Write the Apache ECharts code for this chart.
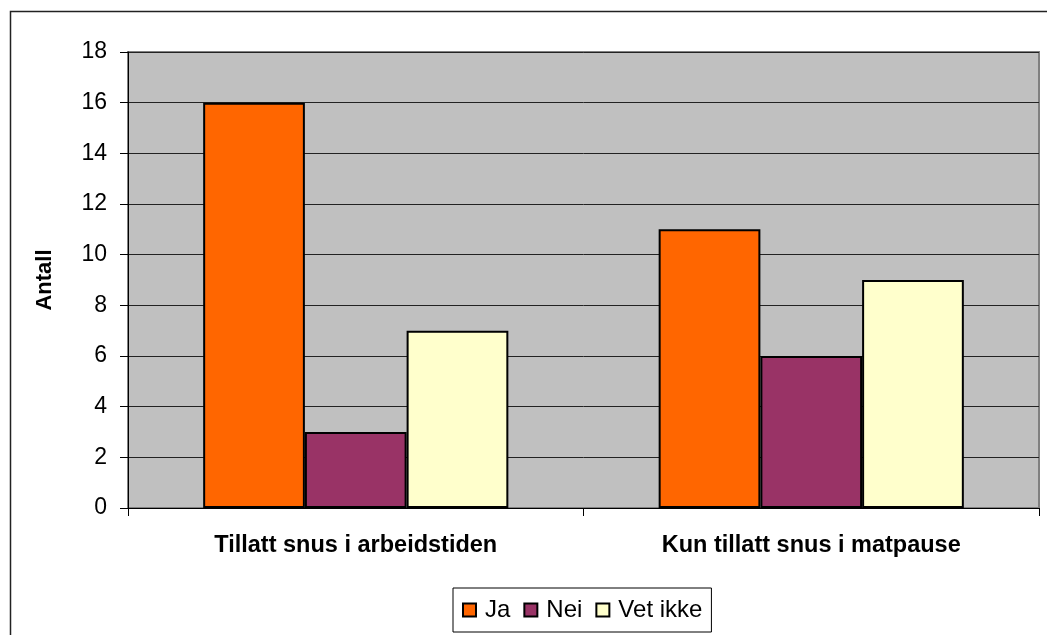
<!DOCTYPE html>
<html>
<head>
<meta charset="utf-8">
<script src="https://cdn.jsdelivr.net/npm/echarts@6/dist/echarts.min.js"></script>
<style>
  html, body { margin: 0; padding: 0; background: #fff; }
  #chart { width: 1047px; height: 635px; }
</style>
</head>
<body>
<div id="chart"></div>
<script>
// Survey answers per rule option
const categories = ['Tillatt snus i arbeidstiden', 'Kun tillatt snus i matpause'];
const seriesNames = ['Ja', 'Nei', 'Vet ikke'];
const jaValues = [16, 11];
const neiValues = [3, 6];
const vetIkkeValues = [7, 9];
const yTicks = [0, 2, 4, 6, 8, 10, 12, 14, 16, 18];

const colors = ['#FF6600', '#993366', '#FFFFCC'];
const FONT = '"Liberation Sans", Arial, sans-serif';

const chart = echarts.init(document.getElementById('chart'), null, { renderer: 'canvas' });

const valueSets = [jaValues, neiValues, vetIkkeValues];

chart.setOption({
  animation: false,
  backgroundColor: '#ffffff',
  textStyle: { fontFamily: FONT },
  graphic: [{
    type: 'rect',
    shape: { x: 10.5, y: 11.5, width: 1200, height: 800 },
    style: { fill: 'none', stroke: '#222', lineWidth: 1.5 },
    silent: true,
    z: 0
  }],
  grid: {
    left: 128, right: 8, top: 52, bottom: 127,
    show: true,
    backgroundColor: '#C0C0C0',
    borderColor: '#808080',
    borderWidth: 2
  },
  legend: {
    data: seriesNames,
    left: 453,
    top: 588,
    padding: [10, 9, 10, 9],
    borderColor: '#000',
    borderWidth: 1,
    backgroundColor: '#fff',
    icon: 'rect',
    itemWidth: 13,
    itemHeight: 13,
    itemGap: 13,
    textStyle: { fontFamily: FONT, fontSize: 24, color: '#000', padding: [0, 0, 0, 4] }
  },
  xAxis: {
    type: 'category',
    data: categories,
    axisLine: { lineStyle: { color: '#000', width: 1 } },
    axisTick: { show: true, length: 8, lineStyle: { color: '#000' } },
    axisLabel: {
      margin: 26,
      fontFamily: FONT,
      fontSize: 23.5,
      fontWeight: 'bold',
      color: '#000'
    }
  },
  yAxis: {
    type: 'value',
    min: yTicks[0],
    max: yTicks[yTicks.length - 1],
    interval: yTicks[1] - yTicks[0],
    name: 'Antall',
    nameLocation: 'middle',
    nameGap: 72,
    nameRotate: 90,
    nameTextStyle: { fontFamily: FONT, fontSize: 22, fontWeight: 'bold', color: '#000' },
    axisLine: { show: true, lineStyle: { color: '#000', width: 1 } },
    axisTick: { show: true, length: 8, lineStyle: { color: '#000' } },
    axisLabel: { margin: 21, fontFamily: FONT, fontSize: 23, color: '#000' },
    splitLine: { show: true, lineStyle: { color: '#222', width: 1 } }
  },
  series: seriesNames.map((name, i) => ({
    name: name,
    type: 'bar',
    data: valueSets[i],
    barGap: '0%',
    barCategoryGap: '33%',
    itemStyle: { color: colors[i], borderColor: '#000', borderWidth: 2 }
  }))
});
</script>
</body>
</html>
